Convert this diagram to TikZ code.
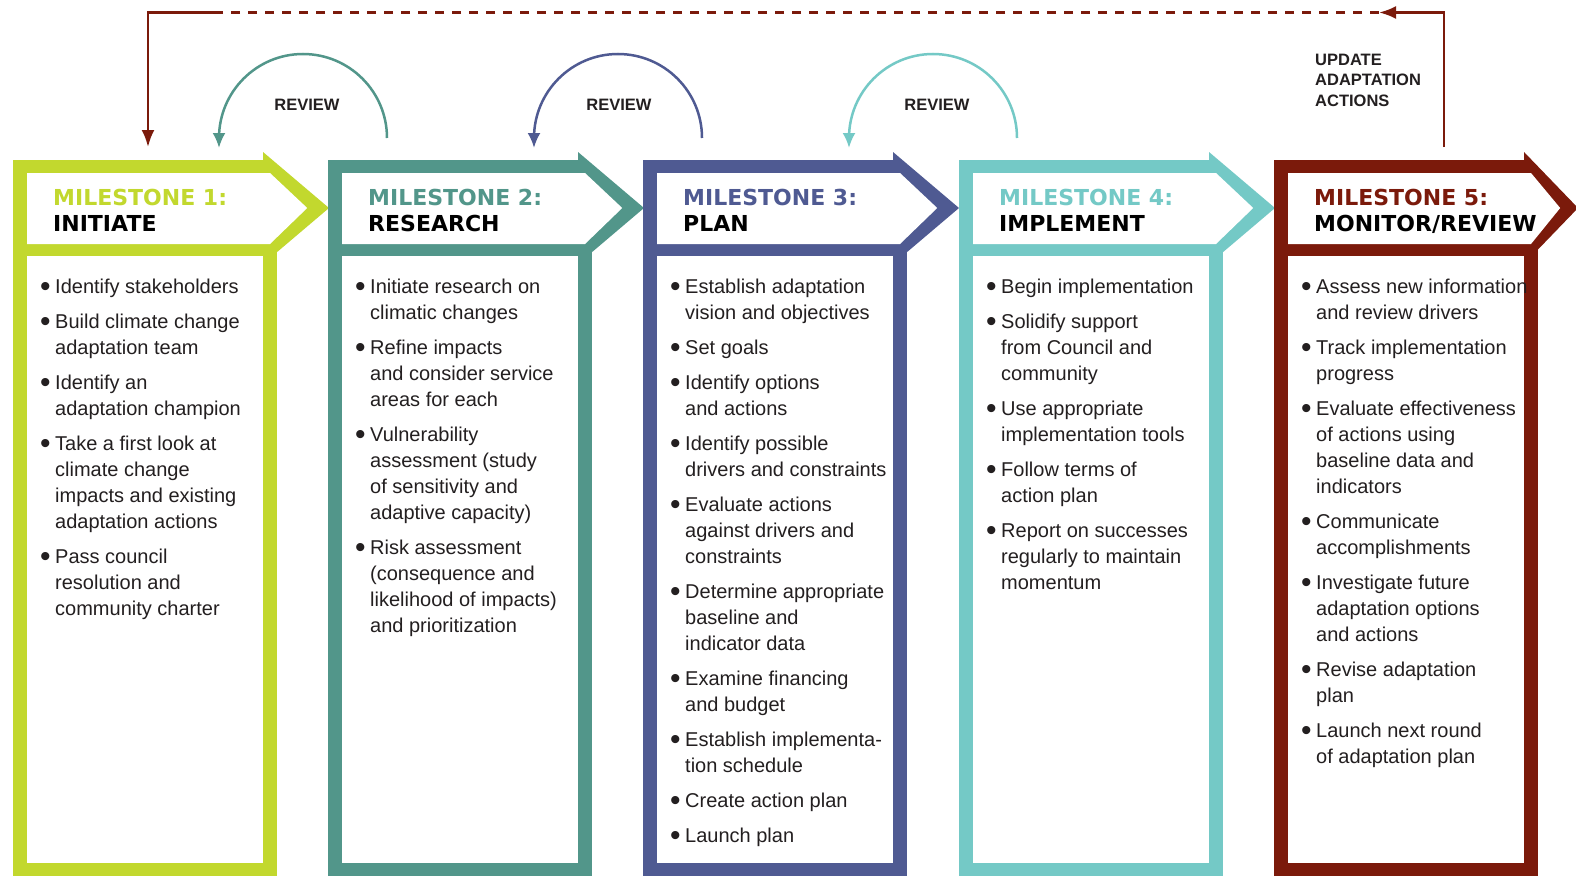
\documentclass[tikz,border=0pt]{standalone}
\usepackage{fontspec}
\setmainfont{Liberation Sans}
\newfontfamily\headfont{DejaVu Sans}
\usepackage{xcolor}
\usepackage{tikz}
\usetikzlibrary{positioning}
\usetikzlibrary{arrows.meta, calc}

\definecolor{msone}{HTML}{C2D82E}
\definecolor{mstwo}{HTML}{52968A}
\definecolor{msthree}{HTML}{4F5A92}
\definecolor{msfour}{HTML}{74C9C6}
\definecolor{msfive}{HTML}{7B1A0B}
\definecolor{bodytext}{HTML}{231F20}

% frame of one milestone: #1 left edge, #2 colour, #3 tip length, #4 name
\newcommand{\msframe}[4]{
    \fill[#2] (#1,244) rectangle ({#1+264},880);
    \fill[#2] (#1,160) -- ({#1+250},160) -- ++(0,-8) -- ++(#3,56) -- ++(-#3,56) -- (#1,264) -- cycle;
    \fill[white] ({#1+14},173) -- ({#1+257},173) -- ({#1+250+0.67*#3},208) -- ({#1+257},244) -- ({#1+14},244) -- cycle;
    \fill[white] ({#1+14},256) rectangle ({#1+250},863);
    \coordinate (#4) at (#1,160);
}
% bigger list bullet
\newcommand{\bul}{\raisebox{-3.3pt}{\fontsize{30}{26}\selectfont\textbullet}}

\tikzset{
    mshead/.style={anchor=base west, inner sep=0pt, font=\headfont\bfseries\fontsize{22}{26}\selectfont},
    mslist/.style={anchor=north west, inner sep=0pt, text=bodytext, font=\fontsize{20}{26}\selectfont},
    revlabel/.style={inner sep=0pt, text=bodytext, font=\bfseries\fontsize{16.5}{20.7}\selectfont},
    reviewarc/.style={line width=2.5pt, -{Latex[length=15pt,width=13pt]}},
    feedback/.style={msfive, line width=2.5pt}
}

\begin{document}
\begin{tikzpicture}[x=1pt, y=-1pt]
        \useasboundingbox (0,0) rectangle (1576,875);
        \fill[white] (0,0) rectangle (1576,875);

        % milestone frames
        \msframe{13}{msone}{66}{ms1}
        \msframe{328}{mstwo}{66}{ms2}
        \msframe{643}{msthree}{66}{ms3}
        \msframe{959}{msfour}{66}{ms4}
        \msframe{1274}{msfive}{54}{ms5}

        % headers
        \node[mshead, text=msone] (m1num) at (53,205) {MILESTONE 1:};
        \node[mshead] (m1name) at (53,231) {INITIATE};
        \node[mshead, text=mstwo] (m2num) at (368,205) {MILESTONE 2:};
        \node[mshead] (m2name) at (368,231) {RESEARCH};
        \node[mshead, text=msthree] (m3num) at (683,205) {MILESTONE 3:};
        \node[mshead] (m3name) at (683,231) {PLAN};
        \node[mshead, text=msfour] (m4num) at (999,205) {MILESTONE 4:};
        \node[mshead] (m4name) at (999,231) {IMPLEMENT};
        \node[mshead, text=msfive] (m5num) at (1314,205) {MILESTONE 5:};
        \node[mshead] (m5name) at (1314,231) {MONITOR/REVIEW};

        % lists
        \node[mslist] (m1list) at (40,275) {
            \begin{tabular}{@{}c@{\hspace{4.5pt}}l@{}}
                \bul & Identify stakeholders \\[9pt]
                \bul & Build climate change \\
                 & adaptation team \\[9pt]
                \bul & Identify an \\
                 & adaptation champion \\[9pt]
                \bul & Take a first look at \\
                 & climate change \\
                 & impacts and existing \\
                 & adaptation actions \\[9pt]
                \bul & Pass council \\
                 & resolution and \\
                 & community charter \\
            \end{tabular}
        };
        \node[mslist] (m2list) at (355,275) {
            \begin{tabular}{@{}c@{\hspace{4.5pt}}l@{}}
                \bul & Initiate research on \\
                 & climatic changes \\[9pt]
                \bul & Refine impacts \\
                 & and consider service \\
                 & areas for each \\[9pt]
                \bul & Vulnerability \\
                 & assessment (study \\
                 & of sensitivity and \\
                 & adaptive capacity) \\[9pt]
                \bul & Risk assessment \\
                 & (consequence and \\
                 & likelihood of impacts) \\
                 & and prioritization \\
            \end{tabular}
        };
        \node[mslist] (m3list) at (670,275) {
            \begin{tabular}{@{}c@{\hspace{4.5pt}}l@{}}
                \bul & Establish adaptation \\
                 & vision and objectives \\[9pt]
                \bul & Set goals \\[9pt]
                \bul & Identify options \\
                 & and actions \\[9pt]
                \bul & Identify possible \\
                 & drivers and constraints \\[9pt]
                \bul & Evaluate actions \\
                 & against drivers and \\
                 & constraints \\[9pt]
                \bul & Determine appropriate \\
                 & baseline and \\
                 & indicator data \\[9pt]
                \bul & Examine financing \\
                 & and budget \\[9pt]
                \bul & Establish implementa- \\
                 & tion schedule \\[9pt]
                \bul & Create action plan \\[9pt]
                \bul & Launch plan \\
            \end{tabular}
        };
        \node[mslist] (m4list) at (986,275) {
            \begin{tabular}{@{}c@{\hspace{4.5pt}}l@{}}
                \bul & Begin implementation \\[9pt]
                \bul & Solidify support \\
                 & from Council and \\
                 & community \\[9pt]
                \bul & Use appropriate \\
                 & implementation tools \\[9pt]
                \bul & Follow terms of \\
                 & action plan \\[9pt]
                \bul & Report on successes \\
                 & regularly to maintain \\
                 & momentum \\
            \end{tabular}
        };
        \node[mslist] (m5list) at (1301,275) {
            \begin{tabular}{@{}c@{\hspace{4.5pt}}l@{}}
                \bul & Assess new information \\
                 & and review drivers \\[9pt]
                \bul & Track implementation \\
                 & progress \\[9pt]
                \bul & Evaluate effectiveness \\
                 & of actions using \\
                 & baseline data and \\
                 & indicators \\[9pt]
                \bul & Communicate \\
                 & accomplishments \\[9pt]
                \bul & Investigate future \\
                 & adaptation options \\
                 & and actions \\[9pt]
                \bul & Revise adaptation \\
                 & plan \\[9pt]
                \bul & Launch next round \\
                 & of adaptation plan \\
            \end{tabular}
        };

        % review arcs
        \coordinate (rv1) at (387,138);
        \coordinate (rv2) at (702,138);
        \coordinate (rv3) at (1017,138);
        \draw[reviewarc, mstwo] (rv1) arc[start angle=0, end angle=-180, radius=84] -- ++(0,10);
        \draw[reviewarc, msthree] (rv2) arc[start angle=0, end angle=-180, radius=84] -- ++(0,10);
        \draw[reviewarc, msfour] (rv3) arc[start angle=0, end angle=-180, radius=84] -- ++(0,10);
        \node[revlabel] (rev1) at (307,105) {REVIEW};
        \node[revlabel] (rev2) at (619,105) {REVIEW};
        \node[revlabel] (rev3) at (937,105) {REVIEW};

        % update loop
        \coordinate (fbstart) at (1444,147);
        \coordinate (fbturn) at (1379,12.5);
        \coordinate (fbdash) at (214,12.5);
        \coordinate (fbend) at (148,147);
        \draw[feedback, -{Latex[length=17pt,width=13pt]}] (fbstart) |- (fbturn);
        \draw[feedback, dash pattern=on 9pt off 8pt] (fbturn) -- (fbdash);
        \draw[feedback, -{Latex[length=17pt,width=13pt]}] (fbdash) -| (fbend);
        \node[revlabel, anchor=north west, align=left] (upd) at (1315,53.5) {UPDATE\\ADAPTATION\\ACTIONS};
    \end{tikzpicture}
\end{document}
